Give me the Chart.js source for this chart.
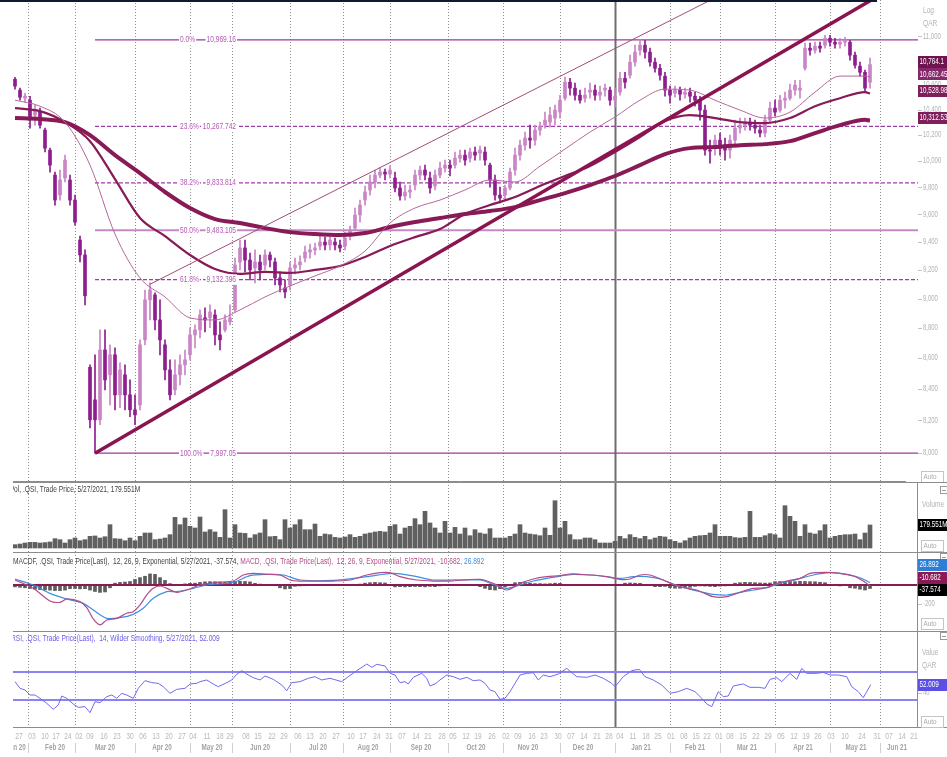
<!DOCTYPE html>
<html>
<head>
<meta charset="utf-8">
<script src="https://cdn.jsdelivr.net/npm/chart.js@4.4.1/dist/chart.umd.min.js"></script>
<style>
  html, body { margin: 0; padding: 0; background: #fff; width: 947px; height: 757px; overflow: hidden; }
  canvas { position: absolute; left: 0; }
  #topbar { position: absolute; left: 0; top: 0; width: 877px; height: 2px; background: #0e1a30; }
</style>
</head>
<body>
<canvas id="main" width="947" height="482" style="top:0"></canvas>
<canvas id="vol" width="947" height="70" style="top:482px"></canvas>
<canvas id="macd" width="947" height="79" style="top:552px"></canvas>
<canvas id="rsi" width="947" height="126" style="top:631px"></canvas>
<div id="topbar"></div>
<script>
// .QSI daily chart, Jan 2020 - May 2021. x = trading-day index, one candle per two days

//////////////////////////////////////////////////////////
/* PRICE (candles) */
const opens = [10644,10556,10491,10475,10356,10380,10238,10083,9892,9742,
  9870,9855,9705,9413,9306,8540,8330,8204,8654,8491,
  8622,8362,8491,8362,8267,8298,8721,8992,9026,8855,
  8688,8523,8394,8491,8556,8622,8754,8788,8869,8869,
  8889,8754,8788,8842,8923,9256,9356,9270,9214,9256,
  9235,9306,9256,9144,9074,9095,9214,9235,9284,9327,
  9342,9370,9398,9377,9398,9377,9370,9441,9499,9595,
  9705,9780,9840,9892,9915,9900,9870,9795,9735,9765,
  9817,9892,9930,9870,9810,9892,9945,9968,9968,10021,
  10044,10021,10068,10060,10068,9968,9855,9742,9742,9795,
  9930,10044,10121,10176,10160,10238,10277,10301,10333,10380,
  10491,10620,10572,10515,10491,10540,10556,10515,10556,10556,
  10475,10540,10652,10677,10784,10883,10925,10867,10784,10734,
  10669,10556,10531,10556,10523,10540,10507,10475,10396,10083,
  10098,10160,10121,10083,10160,10254,10277,10301,10277,10238,
  10215,10317,10412,10396,10475,10491,10556,10556,10734,10900,
  10883,10917,10925,10983,10950,10934,10950,10950,10842,10751,
  10701,10620];
const highs = [10660,10572,10531,10507,10435,10412,10254,10098,9915,9930,
  10044,9892,9742,9441,9342,8556,8622,8788,8788,8688,
  8668,8569,8556,8458,8362,8721,9060,9109,9040,8992,
  8721,8589,8589,8622,8654,8802,8822,8923,8937,8957,
  8923,8842,8889,8957,9284,9413,9413,9320,9342,9306,
  9342,9327,9284,9186,9130,9256,9284,9299,9370,9384,
  9391,9441,9434,9441,9427,9413,9470,9514,9646,9705,
  9810,9892,9930,9945,9938,9960,9915,9840,9817,9817,
  9930,9960,9968,9915,9930,9991,10006,10006,10068,10083,
  10083,10098,10106,10114,10106,9983,9892,9802,9817,9945,
  10098,10160,10223,10277,10277,10301,10380,10419,10435,10515,
  10661,10652,10612,10556,10572,10612,10596,10588,10604,10580,
  10572,10701,10701,10842,10925,10969.16,10966,10900,10817,10767,
  10701,10588,10588,10580,10572,10572,10540,10507,10435,10160,
  10199,10215,10176,10199,10317,10333,10333,10333,10317,10277,
  10356,10459,10475,10515,10540,10604,10636,10636,10942,10942,
  10950,10950,11008,11008,10983,10983,10991,10966,10867,10784,
  10718,10817];
const lows = [10564,10475,10459,10254,10277,10254,10068,9915,9668,9705,
  9840,9668,9521,9256,8957,8154,7997.05,8173,8394,8298,
  8267,8280,8267,8223,8173,8267,8688,8855,8788,8622,
  8458,8330,8362,8426,8491,8589,8668,8734,8775,8802,
  8688,8654,8775,8822,8909,9200,9186,9130,9109,9130,
  9200,9221,9095,9046,9005,9060,9172,9200,9256,9284,
  9306,9342,9342,9342,9342,9327,9342,9413,9485,9543,
  9668,9742,9795,9870,9855,9870,9765,9705,9705,9720,
  9780,9855,9855,9757,9780,9870,9915,9885,9945,9991,
  9968,9991,10006,10006,9968,9802,9705,9683,9705,9780,
  9892,10006,10083,10098,10121,10199,10254,10262,10277,10333,
  10475,10515,10475,10451,10459,10491,10475,10475,10507,10435,
  10419,10515,10572,10652,10751,10842,10817,10751,10701,10636,
  10507,10451,10499,10475,10491,10459,10427,10317,10044,9983,
  10044,10044,10006,10021,10121,10215,10238,10238,10215,10184,
  10184,10301,10348,10380,10412,10475,10515,10491,10718,10842,
  10858,10867,10900,10917,10900,10900,10917,10800,10734,10669,
  10540,10572];
const closes = [10588,10499,10507,10333,10396,10277,10098,9968,9705,9855,
  10006,9705,9543,9306,9020,8204,8204,8654,8458,8622,
  8362,8523,8362,8267,8235,8688,8992,9060,8855,8721,
  8523,8362,8491,8556,8589,8754,8788,8889,8855,8909,
  8754,8721,8855,8869,9235,9356,9270,9200,9256,9200,
  9306,9270,9144,9095,9046,9214,9235,9256,9327,9342,
  9356,9398,9377,9413,9377,9356,9427,9485,9595,9668,
  9765,9840,9892,9915,9900,9930,9795,9735,9765,9780,
  9892,9930,9892,9795,9892,9945,9968,9945,10021,10044,
  10006,10068,10044,10083,10006,9855,9742,9720,9795,9915,
  10044,10121,10176,10160,10238,10270,10317,10356,10396,10475,
  10620,10572,10515,10475,10515,10556,10515,10540,10572,10475,
  10507,10652,10620,10784,10867,10925,10867,10784,10734,10677,
  10556,10515,10556,10523,10540,10507,10475,10396,10083,10075,
  10160,10098,10083,10160,10254,10277,10301,10277,10254,10215,
  10317,10412,10380,10475,10491,10556,10596,10572,10900,10883,
  10917,10900,10983,10950,10934,10950,10966,10842,10759,10701,
  10572,10764.1];

// moving averages, sampled every 10 trading days
const maIdx = [0,10,20,30,40,50,60,70,80,90,100,110,120,130,140,150,160,170,180,190,
  200,210,220,230,240,250,260,270,280,290,300,310,320,330,340,342];
const maFast = [10475,10427,10301,9968,9456,9144,9012,8869,8855,8923,9012,9088,9158,9228,9334,9536,9646,9705,9780,9855,
  9840,9960,10091,10223,10341,10475,10564,10556,10475,10396,10333,10380,10540,10670,10670,10662.45];
const maMid = [10412,10388,10301,10152,9862,9573,9441,9306,9207,9172,9186,9179,9200,9228,9292,9370,9434,9492,9602,9668,
  9727,9810,9885,9960,10068,10184,10309,10356,10333,10301,10293,10333,10427,10491,10540,10528.98];
const maSlow = [10333,10325,10301,10199,10044,9907,9765,9646,9565,9536,9499,9470,9456,9449,9463,9507,9543,9573,9602,9624,
  9653,9705,9757,9817,9885,9968,10052,10098,10106,10121,10129,10152,10215,10277,10320,10312.53];

// trend lines [idx, price]
const trendSupport = [[32, 7997.05], [345, 11340]];
const trendChannel = [[54, 9100], [282, 11350]];

// fibonacci retracement
const fibPct = ['0.0%', '23.6%', '38.2%', '50.0%', '61.8%', '100.0%'];
const fibLevels = [10969.16, 10267.742, 9833.814, 9483.105, 9132.396, 7997.05];
const fibFrom = 32;

//////////////////////////////////////////////////////////
/* VOLUME (millions) */
const volumes = [26,31,39,44,44,39,42,47,73,65,
  39,65,78,57,65,91,94,78,88,182,
  73,70,57,78,57,91,117,117,65,70,
  78,104,239,182,234,169,156,242,125,143,
  125,83,299,78,182,117,114,78,104,117,
  221,88,91,65,221,156,182,221,143,143,
  187,91,109,104,83,78,86,104,83,91,
  109,117,125,130,125,169,182,109,156,169,
  229,182,286,195,156,117,208,117,161,109,
  156,96,143,117,109,151,78,78,78,91,
  109,182,117,109,104,96,156,99,369,156,
  208,104,65,65,78,78,65,39,39,39,
  52,91,73,104,83,73,91,65,78,91,
  86,65,52,39,57,78,91,96,99,117,
  182,91,91,91,81,78,83,286,83,83,
  96,112,104,78,330,247,208,91,182,117,
  109,135,182,78,91,99,104,104,109,65,
  117,179.551];

//////////////////////////////////////////////////////////
/* MACD 12,26,9 */
const macdHist = [-20,-25,-30,-38,-45,-50,-54,-56,-60,-60,
  -55,-40,-38,-42,-40,-55,-70,-80,-75,-30,
  20,28,32,38,60,80,95,120,115,80,
  50,15,5,0,12,18,20,28,34,36,
  36,34,30,36,40,40,38,34,18,10,
  5,0,-8,-30,-43,-38,-14,-10,-8,-5,
  3,5,4,2,5,4,3,5,3,10,
  20,25,29,25,22,5,-20,-18,-20,-18,
  -16,-18,-20,-15,-18,-10,-2,0,2,0,
  -2,0,2,-18,-36,-50,-54,-40,-20,-5,
  25,29,27,20,15,15,12,15,20,18,
  5,3,0,2,0,-2,0,2,3,5,
  2,8,20,22,20,18,5,-5,-18,-18,
  -15,-30,-35,-35,-30,-25,-15,-10,-12,-15,
  -18,-12,-10,-8,20,25,29,27,25,22,
  20,22,36,38,40,38,36,40,38,36,
  35,30,25,5,-5,-10,-5,-30,-35,-45,
  -54,-37.574];
const macdIdx = [0,7.3,14,18,20.7,26,28.7,31.3,34,36.7,40.7,44.7,47.3,50,52.7,55.3,58,60.7,64.7,68.7,
  74,80.7,87.3,91.3,95.3,100.7,106,110,114,127.3,134,140.7,146,150,154,160.7,167.3,174,186,
  191.3,196.7,202,207.3,212.7,218,222,226,231.3,236.7,242,246,250,254,259.3,266,272.7,279.3,
  284.7,290,295.3,300.7,304.7,308.7,314,318,324.7,330,335.3,339.3,342];
const macdVal = [54,-36,-173,-187,-151,-180,-245,-367,-432,-378,-360,-306,-288,-216,-108,-36,-11,-36,-79,-54,
  0,29,43,108,126,115,108,54,43,43,54,108,133,133,90,54,43,43,61,
  18,-54,18,65,90,101,119,115,108,90,61,65,108,108,54,-18,-54,-126,
  -126,-79,-36,-29,18,43,72,126,137,126,97,43,-10.682];
const sigIdx = [0,7.3,14,20.7,27.3,31.3,36.7,42,47.3,51.3,55.3,60.7,64.7,71.3,76.7,87.3,94,100.7,107.3,114,
  127.3,140.7,151.3,160.7,167.3,186,191.3,196.7,202,207.3,212.7,218,223.3,230,236.7,242,247.3,252.7,
  258,263.3,268.7,274,279.3,284.7,290,295.3,300.7,306,312.7,319.3,326,332.7,338,342];
const sigVal = [65,0,-90,-151,-198,-270,-360,-353,-317,-252,-144,-72,-72,-36,0,29,101,115,108,54,
  50,90,126,90,54,54,7,-36,0,43,72,97,115,108,90,72,90,90,
  65,7,-36,-72,-101,-108,-79,-54,-29,18,61,108,133,115,79,26.892];

//////////////////////////////////////////////////////////
/* RSI 14 */
const rsiIdx = [0,2,4,6,8,10,12.7,15.3,17.3,18.7,20.7,23.3,25.3,28,30,32,34,36.7,38.7,40.7,
  42.7,44.7,47.3,49.3,52,54.7,57.3,59.3,62,64.7,68,70,72.7,74,76.7,79.3,81.3,84.7,86.7,88.7,
  90.7,93.3,95.3,98,100,103.3,106.7,108.7,110.7,114,117.3,120,122.7,126,130.7,133.3,136.7,140.7,142.7,144.7,
  148,150,152,154,156,157.3,159.3,162.7,164.7,166,168,170,172.7,175.3,178,180.7,183.3,
  186,188,190,192,194,196,198,200,202,204.7,207.3,209.3,211.3,214,217.3,220.7,224.7,228.7,232,235.3,
  238.7,240,243.3,246.7,249.7,252,255.3,258.7,262,265.3,268.7,272,274.7,276.7,278.7,281.3,283.3,285.3,287.3,
  291.3,294,297.3,300,302,304.7,306.7,310,312.7,314.7,316.7,320.7,323.3,326,329.3,332.7,334.7,337.3,339.3,340.7,342.3];
const rsiVal = [56.2,46.7,44.3,37.1,37.1,32.4,25.2,16.7,22.9,35.7,32.4,24.3,19.5,20.5,11.9,27.6,26.2,34.8,37.1,32.4,
  39.5,37.1,32.4,46.7,57.6,54.8,53.8,49,39.5,45.2,46.7,52.9,53.8,56.2,58.6,52.9,49,54.8,58.6,66.7,
  71.9,65.7,61.9,58.6,64.3,59.5,51.4,43.3,54.8,56.2,61,63.3,58.6,61,56.2,63.3,71.9,81.4,76.7,81,
  78.6,68.1,65.7,54.8,56.2,52.9,62.4,68.1,61,50,52.9,58.6,65.7,63.3,59.5,62.4,57.6,
  58.6,53.8,44.3,41.9,31,32.4,41.9,53.8,65.7,68.1,69,58.6,65.7,63.3,67.1,75.2,63.3,62.4,65.7,61,
  53.8,49,63.3,71.9,73.8,63.3,58.6,51.4,39.5,41.9,46.7,41.9,32.4,24.3,20.5,41.9,34.8,35.7,50,
  52.9,48.1,48.1,46.7,59.5,61.9,56.2,68.1,59.5,75.2,68.1,68.1,69.5,65.7,65.7,63.3,49,41.9,33.3,41.9,52.009];
const rsiBands = [70, 30];

//////////////////////////////////////////////////////////
/* DATE AXIS */
const monthStarts = [5,24,48,70,87,110,131,150,173,195,218,240,262,282,304,326,346];
const yearStart = 240;
const weekIdx = [1.6,6.8,12,16.4,21.2,25.6,30,35.6,40.8,46,51.2,56.4,61.6,66.8,71.2,76.8,82,86,92.4,97.2,
  102.8,107.6,113.2,118,123.2,128.4,134.4,139.2,144.8,149.6,154.8,160.4,165.2,170.8,175.2,180.4,185.2,190.8,196.4,201.2,
  206.8,211.6,217.2,222.4,227.6,232.8,237.6,242,247.2,252.4,257.2,262.4,267.6,272.4,276.8,281.6,286,291.2,296.4,301.2,
  306.4,311.6,316.4,321.2,326.4,332,338.8,344.8,349.6,354.8,359.6];
const weekLbl = ['27','03','10','17','24','02','09','16','23','30','06','13','20','27','04','11','18','29','08','15',
  '22','29','06','13','20','27','10','17','24','31','07','14','21','28','05','12','19','26','02','09',
  '16','23','30','07','14','21','28','04','11','18','25','01','08','15','22','01','08','15','22','29',
  '05','12','19','26','03','10','24','31','07','14','21'];
const monthLblIdx = [0.4,16,36,58.8,78.8,98,121.2,141.2,162.4,184.4,205.2,227.2,250.4,272,292.8,315.2,336.4,352.8];
const monthLbl = ['Jan 20','Feb 20','Mar 20','Apr 20','May 20','Jun 20','Jul 20','Aug 20','Sep 20','Oct 20',
  'Nov 20','Dec 20','Jan 21','Feb 21','Mar 21','Apr 21','May 21','Jun 21'];

//////////////////////////////////////////////////////////
/* HELPERS */
const X_MIN = -0.8, X_MAX = 361.2;
const FONT = '"Liberation Sans", Arial, sans-serif';
const C_UP = '#C985C6', C_DN = '#8E1E8E';
const last = closes.length - 1;

const candleX = opens.map((_, k) => k * 2);
const candleCol = opens.map((o, k) => closes[k] >= o ? C_UP : C_DN);
const pts = (xs, ys) => xs.map((x, i) => ({x, y: ys[i]}));
const pairs = arr => arr.map(p => ({x: p[0], y: p[1]}));
const flat = v => [{x: X_MIN, y: v}, {x: X_MAX, y: v}];
const fmt = (v, d = 3) => v.toLocaleString('en-US', {maximumFractionDigits: d});

function line(data, color, width, order, extra) {
  return Object.assign({type: 'line', data, borderColor: color, borderWidth: width,
    pointRadius: 0, fill: false, order}, extra || {});
}

// small condensed text, like the terminal font
function txt(ctx, s, x, y, color, o) {
  o = o || {};
  const size = o.size || 8.5, sx = o.sx || 0.78, align = o.align || 'left';
  ctx.save();
  ctx.font = (o.bold ? 'bold ' : '') + size + 'px ' + FONT;
  const w = ctx.measureText(s).width * sx;
  const x0 = align === 'left' ? x : align === 'center' ? x - w / 2 : x - w;
  if (o.bg) { ctx.fillStyle = o.bg; ctx.fillRect(x0 - 1, y - size / 2 - 1, w + 2, size + 2); }
  ctx.fillStyle = color;
  ctx.textBaseline = 'middle';
  ctx.translate(x0, y);
  ctx.scale(sx, 1);
  ctx.fillText(s, 0, 0);
  ctx.restore();
  return w;
}
function tag(ctx, s, y, bg) {
  ctx.fillStyle = bg;
  ctx.fillRect(918, Math.round(y) - 6, 29, 12);
  txt(ctx, s, 919.5, y, '#fff', {sx: 0.74});
}
function rtick(ctx, s, y) {
  ctx.save();
  ctx.strokeStyle = '#c4c4c4'; ctx.lineWidth = 1;
  ctx.beginPath(); ctx.moveTo(918, Math.round(y) + 0.5); ctx.lineTo(922, Math.round(y) + 0.5); ctx.stroke();
  ctx.restore();
  txt(ctx, s, 923, y, '#b3b3b3', {sx: 0.7});
}
function autoBox(ctx, y) {
  ctx.save();
  ctx.strokeStyle = '#c4c4c4'; ctx.lineWidth = 1;
  ctx.strokeRect(921.5, Math.round(y) - 5.5, 22, 11);
  ctx.restore();
  txt(ctx, 'Auto', 923.5, y, '#aaa', {size: 8, sx: 0.8});
}
function icon(ctx, y) {
  ctx.save();
  ctx.strokeStyle = '#999'; ctx.lineWidth = 1;
  ctx.strokeRect(940.5, y + 0.5, 7, 7);
  ctx.beginPath(); ctx.moveTo(942, y + 4.5); ctx.lineTo(946, y + 4.5); ctx.stroke();
  ctx.restore();
}
function frame(ctx, a, top, bottom) {
  ctx.save();
  ctx.strokeStyle = '#8c8c8c'; ctx.lineWidth = 1;
  ctx.beginPath();
  if (top) { ctx.moveTo(a.left, a.top + 0.5); ctx.lineTo(947, a.top + 0.5); }
  if (bottom) { ctx.moveTo(a.left, a.bottom - 0.5); ctx.lineTo(947, a.bottom - 0.5); }
  ctx.moveTo(917.5, a.top); ctx.lineTo(917.5, a.bottom);
  ctx.stroke();
  ctx.restore();
}
function clipLeft(ctx, h) {
  ctx.save(); ctx.beginPath(); ctx.rect(13, 0, 934, h); ctx.clip();
}

const monthGrid = {
  id: 'monthGrid',
  beforeDatasetsDraw(chart) {
    const {ctx, chartArea: a, scales: {x}} = chart;
    ctx.save();
    monthStarts.forEach(v => {
      const px = Math.round(x.getPixelForValue(v)) + 0.5;
      if (v === yearStart) { ctx.setLineDash([]); ctx.strokeStyle = '#6e6e6e'; ctx.lineWidth = 2; }
      else { ctx.setLineDash([1, 2]); ctx.strokeStyle = '#8f8f8f'; ctx.lineWidth = 1; }
      ctx.beginPath(); ctx.moveTo(px, a.top); ctx.lineTo(px, a.bottom); ctx.stroke();
    });
    ctx.restore();
  }
};

function options(y, padBottom) {
  return {
    responsive: false, animation: false, devicePixelRatio: 1, events: [],
    layout: {padding: {left: 13, right: 29, top: 0, bottom: padBottom || 0}},
    plugins: {legend: {display: false}, tooltip: {enabled: false}},
    scales: {
      x: {type: 'linear', min: X_MIN, max: X_MAX, offset: false, display: false},
      y: Object.assign({display: false}, y)
    }
  };
}

//////////////////////////////////////////////////////////
/* MAIN PRICE PANE */
const fibColor = ['#9B3A9B', '#A03CA8', '#A03CA8', '#C48AC4', '#A03CA8', '#9B3A9B'];
const fibDash = [[], [4, 2], [4, 2], [], [4, 2], []];
const fibWidth = [1.2, 1.2, 1.2, 2, 1.2, 1.2];

const mainDecor = {
  id: 'mainDecor',
  afterDraw(chart) {
    const {ctx, chartArea: a, scales: {x, y}} = chart;
    const xa = x.getPixelForValue(66), xb = x.getPixelForValue(88.4);
    fibLevels.forEach((lv, i) => {
      const py = y.getPixelForValue(lv);
      txt(ctx, fibPct[i], xa, py, '#B458B4', {bg: '#fff'});
      txt(ctx, fmt(lv), xb, py, '#B458B4', {bg: '#fff', align: 'right'});
    });
    ctx.save();
    ctx.strokeStyle = '#8c8c8c'; ctx.lineWidth = 1;
    ctx.beginPath(); ctx.moveTo(a.left, a.bottom - 0.5); ctx.lineTo(906, a.bottom - 0.5); ctx.stroke();
    ctx.restore();
    for (let v = 8000; v <= 11000; v += 200) rtick(ctx, v.toLocaleString('en-US'), y.getPixelForValue(v));
    txt(ctx, 'Log', 923, 11, '#b3b3b3');
    txt(ctx, 'QAR', 923, 24, '#b3b3b3');
    const tags = [[closes[last], '#6E1450'], [maFast[maFast.length - 1], '#86286A'],
      [maMid[maMid.length - 1], '#7E1F5C'], [maSlow[maSlow.length - 1], '#7E1F5C']];
    tags.forEach(t => tag(ctx, fmt(t[0], 2), y.getPixelForValue(t[0]) - 2.5, t[1]));
    autoBox(ctx, 477);
  }
};

new Chart(document.getElementById('main'), {
  type: 'bar',
  data: {
    datasets: [
      ...fibLevels.map((lv, i) => line([{x: fibFrom, y: lv}, {x: X_MAX, y: lv}], fibColor[i], fibWidth[i], 9,
        {borderDash: fibDash[i]})),
      {type: 'bar', data: candleX.map((x, k) => ({x, y: [lows[k], highs[k]]})), backgroundColor: candleCol,
        barThickness: 1, grouped: false, order: 8},
      {type: 'bar', data: candleX.map((x, k) => ({x, y: [opens[k], closes[k]]})), backgroundColor: candleCol,
        barThickness: 3, minBarLength: 1, grouped: false, order: 7},
      line(pts(maIdx, maSlow), '#881A56', 4, 4, {cubicInterpolationMode: 'monotone'}),
      line(pts(maIdx, maMid), '#881A56', 2.2, 3, {cubicInterpolationMode: 'monotone'}),
      line(pts(maIdx, maFast), '#B5679A', 1, 2, {cubicInterpolationMode: 'monotone'}),
      line(pairs(trendChannel), '#A04C7C', 1, 1),
      line(pairs(trendSupport), '#8A1450', 3.5, 0)
    ]
  },
  options: options({type: 'logarithmic', min: 7823, max: 11309}),
  plugins: [monthGrid, mainDecor]
});

//////////////////////////////////////////////////////////
/* VOLUME PANE */
new Chart(document.getElementById('vol'), {
  type: 'bar',
  data: {
    datasets: [{data: pts(candleX, volumes), backgroundColor: '#606060', barThickness: 4}]
  },
  options: options({type: 'linear', min: -31.2, max: 514.8}),
  plugins: [monthGrid, {
    id: 'volDecor',
    afterDraw(chart) {
      const {ctx, chartArea: a, scales: {y}} = chart;
      frame(ctx, a, true, false);
      clipLeft(ctx, 70);
      txt(ctx, 'Vol, .QSI, Trade Price, 5/27/2021, ' + fmt(volumes[last]) + 'M', 10, a.top + 8, '#444');
      ctx.restore();
      icon(ctx, a.top + 4);
      txt(ctx, 'Volume', 922, a.top + 23, '#b3b3b3');
      tag(ctx, fmt(volumes[last]) + 'M', y.getPixelForValue(volumes[last]), '#000');
      autoBox(ctx, a.top + 64);
    }
  }]
});

//////////////////////////////////////////////////////////
/* MACD PANE */
new Chart(document.getElementById('macd'), {
  type: 'bar',
  data: {
    datasets: [
      {type: 'bar', data: pts(candleX, macdHist), backgroundColor: '#5c5c5c', barThickness: 3, order: 5},
      line(flat(0), '#8A1A56', 2, 3),
      line(pts(sigIdx, sigVal), '#3C8FE2', 1.2, 2, {tension: 0.3}),
      line(pts(macdIdx, macdVal), '#B44C88', 1.2, 1, {tension: 0.3})
    ]
  },
  options: options({type: 'linear', min: -497.2, max: 356.8}),
  plugins: [monthGrid, {
    id: 'macdDecor',
    afterDraw(chart) {
      const {ctx, chartArea: a, scales: {y}} = chart;
      frame(ctx, a, true, false);
      clipLeft(ctx, 79);
      let px = 13;
      px += txt(ctx, 'MACDF, .QSI, Trade Price(Last),  12, 26, 9, Exponential, 5/27/2021, ' + macdHist[last].toFixed(3) + ', ',
        px, a.top + 10, '#444');
      px += txt(ctx, 'MACD, .QSI, Trade Price(Last),  12, 26, 9, Exponential, 5/27/2021, ' +
        macdVal[macdVal.length - 1].toFixed(3) + ', ', px, a.top + 10, '#B44C88');
      txt(ctx, sigVal[sigVal.length - 1].toFixed(3), px, a.top + 10, '#3C8FE2');
      ctx.restore();
      icon(ctx, a.top + 1);
      rtick(ctx, '-200', y.getPixelForValue(-200));
      tag(ctx, sigVal[sigVal.length - 1].toFixed(3), a.top + 13, '#2E7ED6');
      tag(ctx, macdVal[macdVal.length - 1].toFixed(3), a.top + 26, '#8A1A56');
      tag(ctx, macdHist[last].toFixed(3), a.top + 38, '#000');
      autoBox(ctx, a.top + 72);
    }
  }]
});

//////////////////////////////////////////////////////////
/* RSI PANE + DATE AXIS */
new Chart(document.getElementById('rsi'), {
  type: 'line',
  data: {
    datasets: [
      ...rsiBands.map(v => line(flat(v), '#8D82F2', 2, 2)),
      line(pts(rsiIdx, rsiVal), '#7467F0', 1, 1)
    ]
  },
  options: options({type: 'linear', min: -10, max: 128.57}, 29),
  plugins: [monthGrid, {
    id: 'rsiDecor',
    afterDraw(chart) {
      const {ctx, chartArea: a, scales: {x, y}} = chart;
      frame(ctx, a, true, true);
      clipLeft(ctx, 126);
      txt(ctx, 'RSI, .QSI, Trade Price(Last),  14, Wilder Smoothing, 5/27/2021, ' + rsiVal[rsiVal.length - 1].toFixed(3),
        11, a.top + 8, '#6A5CE8');
      weekIdx.forEach((v, i) => txt(ctx, weekLbl[i], x.getPixelForValue(v), a.bottom + 9, '#b8b8b8', {align: 'center'}));
      monthLbl.forEach((s, i) => txt(ctx, s, x.getPixelForValue(monthLblIdx[i]), a.bottom + 20, '#a3a3a3',
        {align: 'center', bold: true, sx: 0.74}));
      ctx.strokeStyle = '#cfcfcf'; ctx.lineWidth = 1;
      monthStarts.forEach(v => {
        const px = Math.round(x.getPixelForValue(v)) + 0.5;
        ctx.beginPath(); ctx.moveTo(px, a.bottom + 15); ctx.lineTo(px, a.bottom + 25); ctx.stroke();
      });
      ctx.restore();
      icon(ctx, a.top + 1);
      txt(ctx, 'Value', 922, a.top + 22, '#b3b3b3');
      txt(ctx, 'QAR', 922, a.top + 35, '#b3b3b3');
      rtick(ctx, '40', y.getPixelForValue(40));
      tag(ctx, rsiVal[rsiVal.length - 1].toFixed(3), y.getPixelForValue(rsiVal[rsiVal.length - 1]), '#5B4FE6');
      autoBox(ctx, a.top + 91);
    }
  }]
});
</script>
</body>
</html>
